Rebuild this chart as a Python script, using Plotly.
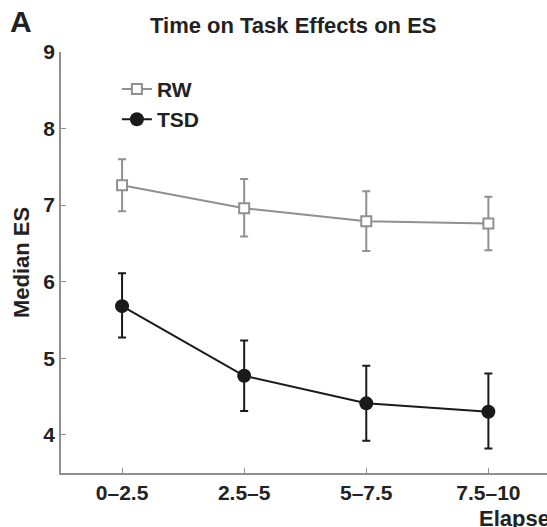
import plotly.graph_objects as go

categories = ["0–2.5", "2.5–5", "5–7.5", "7.5–10"]
rw_median = [7.26, 6.96, 6.79, 6.76]
rw_upper = [7.60, 7.34, 7.18, 7.11]
rw_lower = [6.92, 6.59, 6.40, 6.41]
tsd_median = [5.68, 4.77, 4.41, 4.30]
tsd_upper = [6.11, 5.23, 4.90, 4.80]
tsd_lower = [5.27, 4.31, 3.92, 3.82]

xi = list(range(len(categories)))
FONT = "Liberation Sans"
GRAY = "#909090"
BLACK = "#1a1a1a"
TXT = "#222222"

fig = go.Figure()
fig.add_trace(go.Scatter(
    x=xi, y=rw_median, name="RW", mode="lines+markers",
    line=dict(color=GRAY, width=2),
    marker=dict(symbol="square", size=10, color="white", line=dict(color=GRAY, width=2)),
    error_y=dict(type="data", symmetric=False,
                 array=[u - m for u, m in zip(rw_upper, rw_median)],
                 arrayminus=[m - l for l, m in zip(rw_lower, rw_median)],
                 color=GRAY, thickness=2, width=4),
))
fig.add_trace(go.Scatter(
    x=xi, y=tsd_median, name="TSD", mode="lines+markers",
    line=dict(color=BLACK, width=2),
    marker=dict(symbol="circle", size=14, color=BLACK),
    error_y=dict(type="data", symmetric=False,
                 array=[u - m for u, m in zip(tsd_upper, tsd_median)],
                 arrayminus=[m - l for l, m in zip(tsd_lower, tsd_median)],
                 color=BLACK, thickness=2, width=4),
))

fig.update_layout(
    width=547, height=527,
    margin=dict(l=61, r=0, t=52, b=54),
    paper_bgcolor="white", plot_bgcolor="white",
    font=dict(family=FONT, color=TXT),
    showlegend=True,
    legend=dict(x=0.115, y=0.96, xanchor="left", yanchor="top",
                font=dict(family=FONT, size=21, color=TXT, weight="bold"),
                bgcolor="rgba(0,0,0,0)", tracegroupgap=0, itemwidth=30),
    xaxis=dict(range=[-0.5, 3.48], tickvals=xi, ticktext=categories,
               showline=True, linecolor=GRAY, linewidth=1.5, mirror=False,
               ticks="inside", ticklen=5, tickcolor=GRAY,
               showgrid=False, zeroline=False,
               tickfont=dict(family=FONT, size=21, color=TXT, weight="bold")),
    yaxis=dict(range=[3.5, 9], tickvals=[4, 5, 6, 7, 8, 9],
               showline=True, linecolor=GRAY, linewidth=1.5,
               ticks="inside", ticklen=5, tickcolor=GRAY,
               showgrid=False, zeroline=False,
               tickfont=dict(family=FONT, size=21, color=TXT, weight="bold"),
               title=dict(text="Median ES", standoff=8,
                          font=dict(family=FONT, size=22, color=TXT, weight="bold"))),
    annotations=[
        dict(text="Time on Task Effects on ES", xref="paper", yref="paper",
             x=(293 - 61) / 486, y=1, yshift=27, showarrow=False,
             xanchor="center", yanchor="middle",
             font=dict(family=FONT, size=22, color=TXT, weight="bold")),
        dict(text="A", xref="paper", yref="paper", x=-61 / 486, xshift=8, y=1, yshift=31,
             showarrow=False, xanchor="left", yanchor="middle",
             font=dict(family=FONT, size=30, color=TXT, weight="bold")),
        dict(text="Elapsed time (min)", xref="paper", yref="paper",
             x=(477 - 61) / 486, y=0, yshift=-31, showarrow=False,
             xanchor="left", yanchor="top",
             font=dict(family=FONT, size=22, color=TXT, weight="bold")),
    ],
)

fig.write_html("out.html")
